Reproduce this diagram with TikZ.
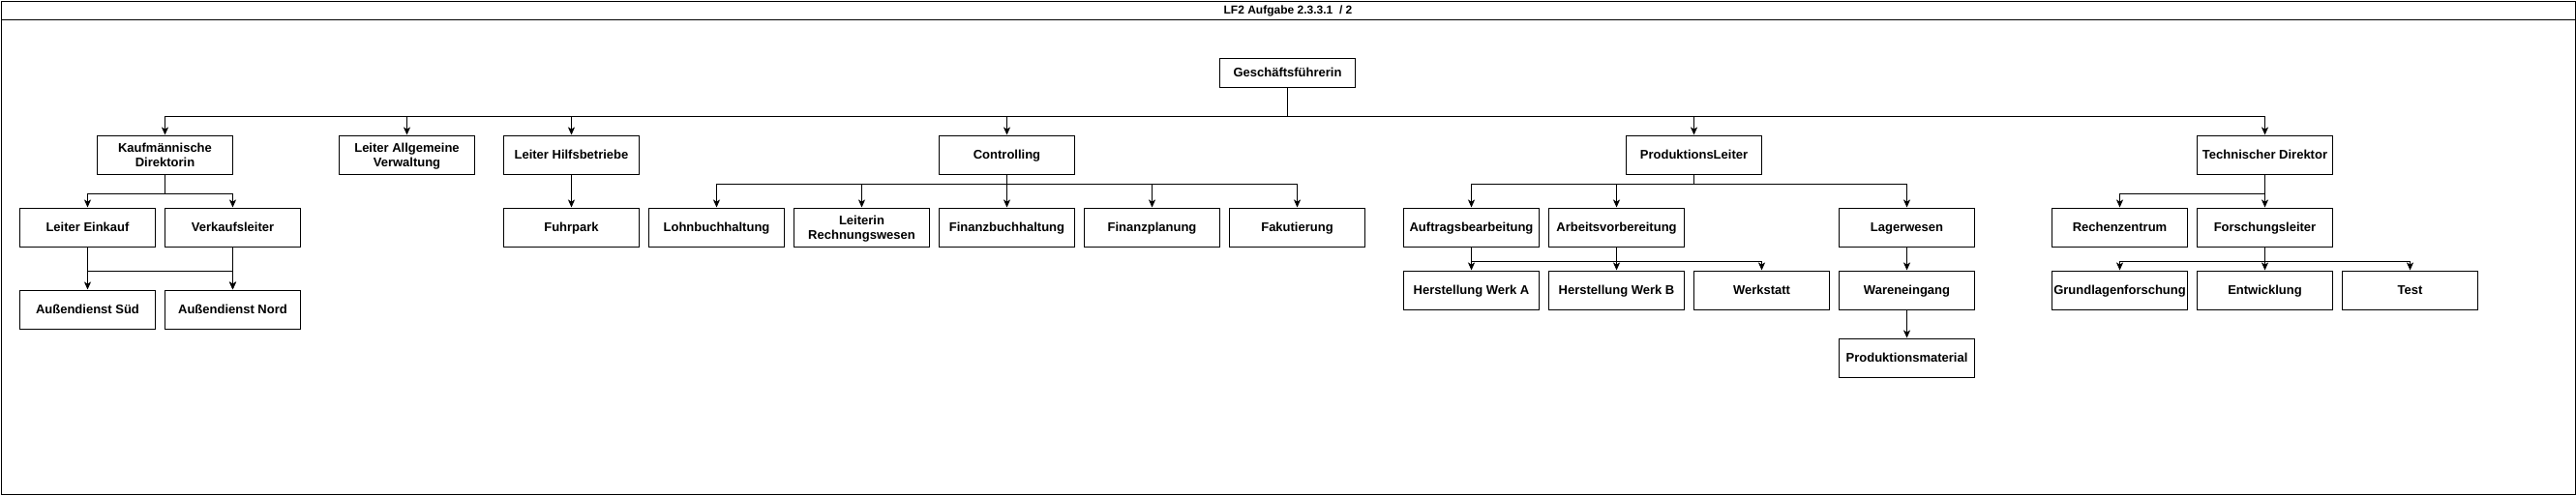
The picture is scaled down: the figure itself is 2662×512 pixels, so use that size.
\documentclass[tikz,border=0pt]{standalone}
\usepackage{fontspec}
\setmainfont{Liberation Sans}
\usetikzlibrary{arrows.meta}
\tikzset{
  box/.style={draw=black, line width=1pt, rectangle, minimum width=140pt, minimum height=40pt,
    inner sep=0pt, align=center, text depth=0pt, font=\fontsize{13}{15}\selectfont\bfseries},
  edge/.style={draw=black, line width=1pt, -{Stealth[length=8pt,width=7pt,inset=2pt]}},
  plain/.style={draw=black, line width=1pt}
}
\begin{document}
\begin{tikzpicture}[x=1pt,y=-1pt]
\useasboundingbox (0,0) rectangle (2662,512);
% frame and title
\draw[plain] (1,1) rectangle (2661,511);
\draw[plain] (1,20) -- (2661,20);
\node[font=\fontsize{12}{14}\selectfont\bfseries, text depth=0pt] (title) at (1331,10.5) {LF2 Aufgabe 2.3.3.1~~/ 2};

% level 0
\node[box, minimum height=30pt] (gf) at (1330.5,75) {Geschäftsführerin};

% level 1
\node[box] (kd) at (170.5,160) {Kaufmännische\\Direktorin};
\node[box] (lav) at (420.5,160) {Leiter Allgemeine\\Verwaltung};
\node[box] (lhb) at (590.5,160) {Leiter Hilfsbetriebe};
\node[box] (ctl) at (1040.5,160) {Controlling};
\node[box] (pl) at (1750.5,160) {ProduktionsLeiter};
\node[box] (td) at (2340.5,160) {Technischer Direktor};

% level 2
\node[box] (le) at (90.5,235) {Leiter Einkauf};
\node[box] (vl) at (240.5,235) {Verkaufsleiter};
\node[box] (fp) at (590.5,235) {Fuhrpark};
\node[box] (lb) at (740.5,235) {Lohnbuchhaltung};
\node[box] (lr) at (890.5,235) {Leiterin\\Rechnungswesen};
\node[box] (fb) at (1040.5,235) {Finanzbuchhaltung};
\node[box] (fpl) at (1190.5,235) {Finanzplanung};
\node[box] (fk) at (1340.5,235) {Fakutierung};
\node[box] (ab) at (1520.5,235) {Auftragsbearbeitung};
\node[box] (av) at (1670.5,235) {Arbeitsvorbereitung};
\node[box] (lw) at (1970.5,235) {Lagerwesen};
\node[box] (rz) at (2190.5,235) {Rechenzentrum};
\node[box] (fl) at (2340.5,235) {Forschungsleiter};

% level 3
\node[box] (ads) at (90.5,320) {Außendienst Süd};
\node[box] (adn) at (240.5,320) {Außendienst Nord};
\node[box] (hwa) at (1520.5,300) {Herstellung Werk A};
\node[box] (hwb) at (1670.5,300) {Herstellung Werk B};
\node[box] (ws) at (1820.5,300) {Werkstatt};
\node[box] (we) at (1970.5,300) {Wareneingang};
\node[box] (glf) at (2190.5,300) {Grundlagenforschung};
\node[box] (ent) at (2340.5,300) {Entwicklung};
\node[box] (tst) at (2490.5,300) {Test};

% level 4
\node[box] (pm) at (1970.5,370) {Produktionsmaterial};

% connectors from Geschäftsführerin
\foreach \c in {kd,lav,lhb,ctl,pl,td}
  \draw[edge] (gf.south) -- ++(0,30) -| (\c.north);

% Kaufmännische Direktorin
\foreach \c in {le,vl}
  \draw[edge] (kd.south) -- ++(0,20) -| (\c.north);
\draw[edge] (le.south) -- ++(0,25) -| (ads.north);
\draw[edge] (le.south) -- ++(0,25) -| (adn.north);
\draw[edge] (vl.south) -- ++(0,25) -| (adn.north);

% Hilfsbetriebe
\draw[edge] (lhb.south) -- (fp.north);

% Controlling
\foreach \c in {lb,lr,fb,fpl,fk}
  \draw[edge] (ctl.south) -- ++(0,10) -| (\c.north);

% Produktion
\foreach \c in {ab,av,lw}
  \draw[edge] (pl.south) -- ++(0,10) -| (\c.north);
\draw[edge] (ab.south) -- ++(0,15) -| (hwa.north);
\foreach \c in {hwb,ws}
  \draw[edge] (av.south) -- ++(0,15) -| (\c.north);
\draw[plain] (ab.south) ++(0,15) -- ++(150,0);
\draw[edge] (lw.south) -- (we.north);
\draw[edge] (we.south) -- (pm.north);

% Technik
\foreach \c in {rz,fl}
  \draw[edge] (td.south) -- ++(0,20) -| (\c.north);
\foreach \c in {glf,ent,tst}
  \draw[edge] (fl.south) -- ++(0,15) -| (\c.north);
\end{tikzpicture}
\end{document}
